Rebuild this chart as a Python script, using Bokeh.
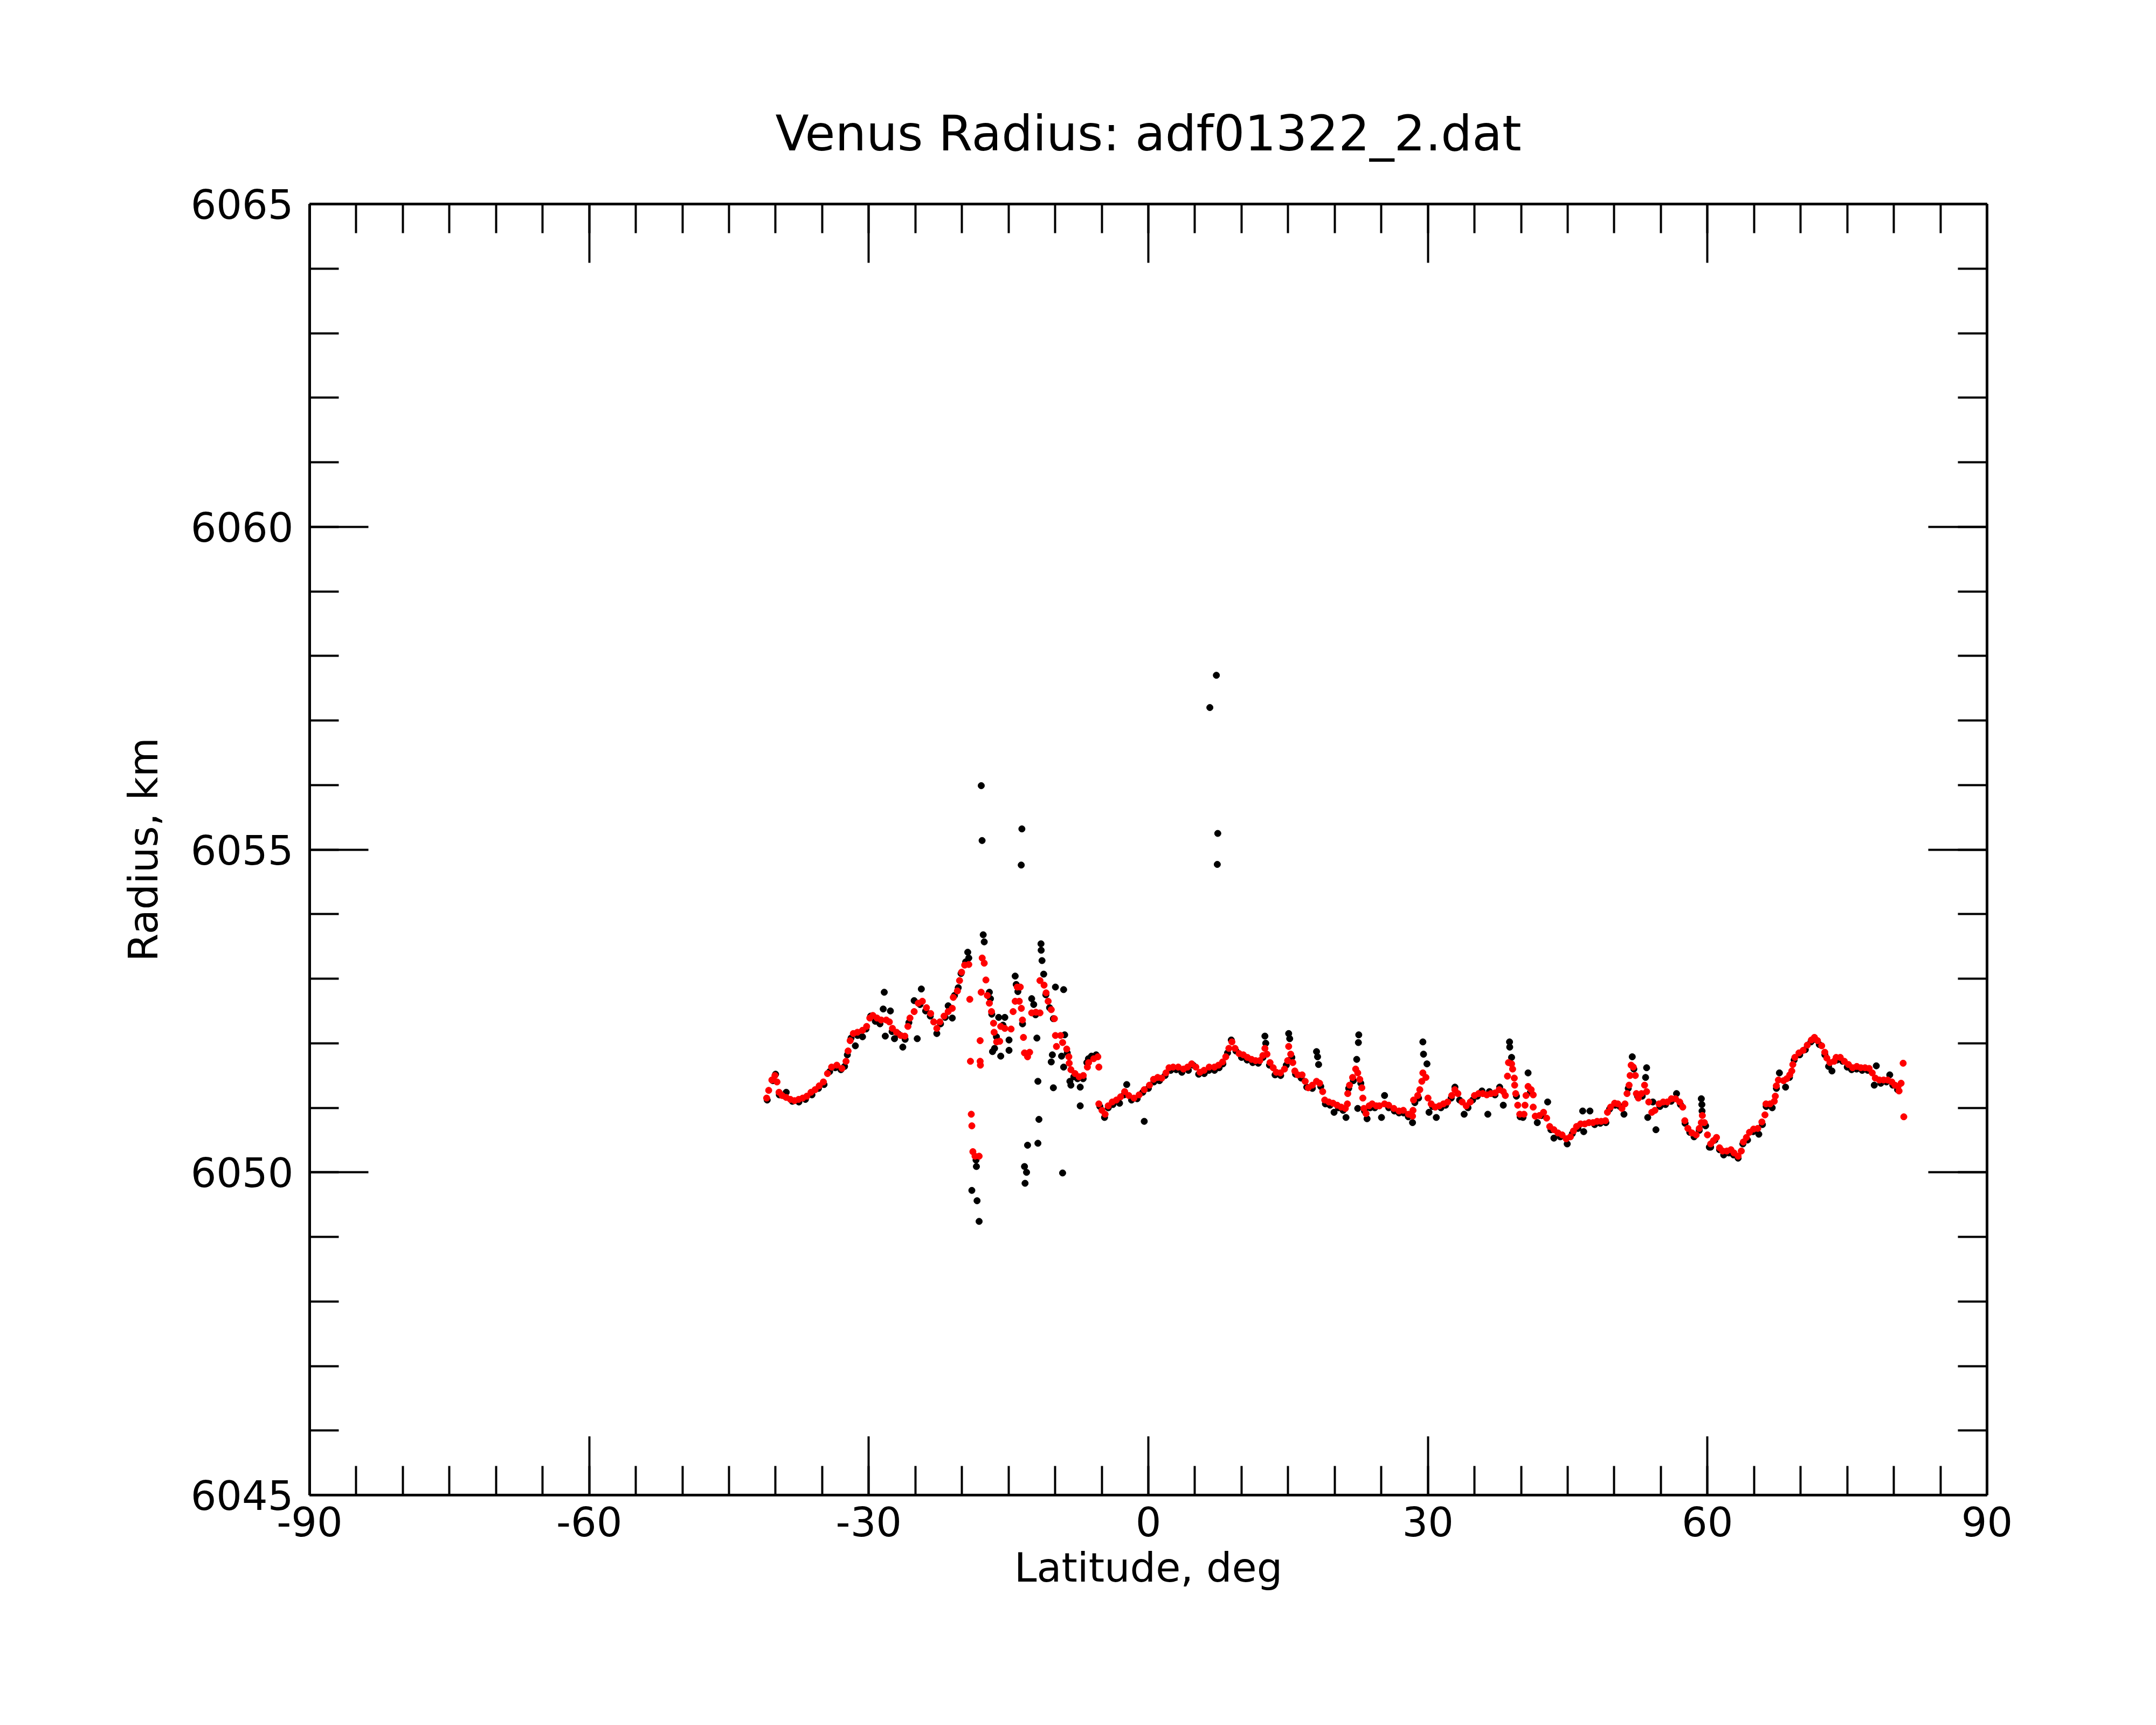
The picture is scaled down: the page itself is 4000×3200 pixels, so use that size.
from bokeh.plotting import figure
from bokeh.models import Range1d, FixedTicker, LinearAxis
from bokeh.embed import file_html
from bokeh.resources import INLINE

title_text = "Venus Radius: adf01322_2.dat"
x_title = "Latitude, deg"
y_title = "Radius, km"

x_major = [-90, -60, -30, 0, 30, 60, 90]
x_minor = list(range(-90, 91, 5))
y_major = [6045, 6050, 6055, 6060, 6065]
y_minor = list(range(6045, 6066))

# smoothed (red) profile
fit_lat = [
    -40.96, -40.74, -40.40, -40.07, -39.85, -39.63, -39.30, -38.86, -38.41, -37.97,
    -37.53, -37.09, -36.64, -36.20, -35.76, -35.32, -34.87, -34.43, -33.99, -33.43,
    -32.88, -32.44, -32.22, -32.00, -31.66, -31.22, -30.67, -30.23, -29.89, -29.56,
    -29.12, -28.67, -28.12, -27.79, -27.46, -27.02, -26.57, -26.13, -25.80, -25.58,
    -25.13, -24.69, -24.25, -23.81, -23.36, -23.03, -22.70, -22.37, -21.92, -21.48,
    -21.04, -20.93, -20.49, -20.26, -20.04, -19.71, -19.27, -19.16, -19.09, -19.00,
    -18.94, -18.83, -18.60, -18.16, -18.05, -18.05, -18.02, -17.94, -17.83, -17.61,
    -17.43, -17.28, -17.06, -16.83, -16.61, -16.55, -16.28, -15.95, -15.84, -15.40,
    -14.73, -14.51, -14.29, -14.07, -13.85, -13.74, -13.63, -13.51, -13.40, -13.29,
    -12.96, -12.74, -12.52, -12.07, -11.63, -11.63, -11.19, -10.97, -10.75, -10.42,
    -10.08, -9.97, -9.86, -9.42, -9.20, -8.76, -8.53, -8.49, -8.31, -7.87,
    -7.43, -6.98, -6.54, -6.41, -5.86, -5.42, -5.31, -5.31, -4.97, -4.64,
    -4.31, -3.87, -3.43, -2.98, -2.54, -2.10, -1.54, -0.99, -0.44, 0.12,
    0.56, 1.00, 1.44, 1.89, 2.22, 2.66, 3.21, 3.77, 4.21, 4.65,
    5.10, 5.54, 5.98, 6.53, 7.09, 7.53, 7.97, 8.31, 8.64, 8.97,
    9.30, 9.74, 10.19, 10.63, 11.07, 11.51, 11.96, 12.29, 12.51, 12.73,
    13.06, 13.40, 13.73, 14.17, 14.61, 14.95, 15.06, 15.28, 15.50, 15.72,
    16.05, 16.50, 16.83, 17.16, 17.60, 18.05, 18.38, 18.71, 18.93, 19.37,
    19.82, 20.26, 20.70, 21.14, 21.36, 21.40, 21.59, 21.92, 22.25, 22.47,
    22.69, 22.91, 23.02, 23.13, 23.36, 23.69, 24.02, 24.46, 24.79, 25.35,
    25.79, 26.34, 26.90, 27.36, 27.91, 28.35, 28.40, 28.46, 28.91, 29.13,
    29.35, 29.46, 29.79, 30.01, 30.35, 30.79, 31.23, 31.67, 32.12, 32.56,
    32.89, 33.22, 33.67, 34.11, 34.55, 35.00, 35.44, 35.88, 36.32, 36.76,
    37.21, 37.65, 38.09, 38.31, 38.54, 38.65, 38.98, 39.09, 39.27, 39.31,
    39.42, 39.64, 39.86, 40.31, 40.42, 40.53, 40.75, 41.08, 41.30, 41.30,
    41.52, 41.97, 42.41, 42.74, 43.07, 43.52, 43.96, 44.40, 44.84, 45.29,
    45.62, 45.95, 46.39, 46.84, 47.28, 47.72, 48.16, 48.60, 49.05, 49.27,
    49.60, 50.04, 50.38, 50.82, 51.15, 51.37, 51.59, 51.70, 51.81, 52.04,
    52.26, 52.37, 52.59, 52.92, 53.25, 53.47, 53.70, 54.03, 54.36, 54.80,
    55.25, 55.69, 56.13, 56.57, 57.02, 57.35, 57.57, 57.90, 58.34, 58.79,
    59.12, 59.34, 59.45, 59.67, 60.00, 60.34, 60.64, 60.97, 61.30, 61.63,
    62.08, 62.52, 62.85, 63.29, 63.63, 63.85, 64.18, 64.51, 64.95, 65.40,
    65.84, 66.17, 66.28, 66.72, 67.17, 67.28, 67.39, 67.61, 68.16, 68.50,
    68.83, 69.05, 69.16, 69.38, 69.82, 70.27, 70.71, 71.15, 71.48, 71.81,
    72.26, 72.59, 72.81, 73.14, 73.59, 73.81, 74.25, 74.69, 75.13, 75.58,
    76.02, 76.46, 76.91, 77.35, 77.68, 78.01, 78.45, 78.90, 79.34, 79.78,
    80.12, 80.45, 80.56, 80.78, 81.00, 81.07,
]
fit_radius = [
    6051.15, 6051.27, 6051.43, 6051.50, 6051.40, 6051.24, 6051.19, 6051.16, 6051.13, 6051.11,
    6051.13, 6051.15, 6051.18, 6051.24, 6051.28, 6051.34, 6051.40, 6051.53, 6051.63, 6051.66,
    6051.61, 6051.72, 6051.88, 6052.04, 6052.15, 6052.17, 6052.20, 6052.26, 6052.39, 6052.43,
    6052.39, 6052.36, 6052.36, 6052.33, 6052.23, 6052.17, 6052.12, 6052.11, 6052.26, 6052.39,
    6052.49, 6052.62, 6052.65, 6052.55, 6052.46, 6052.33, 6052.23, 6052.33, 6052.42, 6052.49,
    6052.54, 6052.71, 6052.81, 6052.97, 6053.10, 6053.21, 6053.22, 6052.68, 6051.72, 6050.90,
    6050.72, 6050.32, 6050.25, 6050.25, 6052.04, 6051.72, 6051.66, 6052.79, 6053.32, 6053.24,
    6052.98, 6052.74, 6052.62, 6052.49, 6052.31, 6052.17, 6052.02, 6052.03, 6052.26, 6052.23,
    6052.22, 6052.49, 6052.65, 6052.87, 6052.65, 6052.87, 6052.54, 6052.36, 6052.09, 6051.85,
    6051.79, 6051.86, 6052.47, 6052.48, 6052.47, 6052.97, 6052.90, 6052.78, 6052.65, 6052.52,
    6052.38, 6052.12, 6051.95, 6052.12, 6052.01, 6051.91, 6051.79, 6051.69, 6051.59, 6051.53,
    6051.48, 6051.50, 6051.63, 6051.70, 6051.76, 6051.79, 6051.63, 6051.06, 6050.96, 6050.90,
    6051.03, 6051.09, 6051.12, 6051.17, 6051.25, 6051.19, 6051.15, 6051.20, 6051.28, 6051.35,
    6051.44, 6051.47, 6051.46, 6051.54, 6051.62, 6051.63, 6051.63, 6051.60, 6051.63, 6051.68,
    6051.63, 6051.55, 6051.58, 6051.63, 6051.63, 6051.66, 6051.71, 6051.79, 6051.92, 6052.02,
    6051.92, 6051.84, 6051.82, 6051.78, 6051.75, 6051.73, 6051.73, 6051.81, 6051.92, 6051.83,
    6051.70, 6051.62, 6051.55, 6051.54, 6051.60, 6051.73, 6051.95, 6051.83, 6051.70, 6051.57,
    6051.51, 6051.51, 6051.41, 6051.31, 6051.35, 6051.41, 6051.38, 6051.25, 6051.12, 6051.09,
    6051.07, 6051.04, 6051.01, 6050.99, 6051.06, 6051.22, 6051.35, 6051.47, 6051.60, 6051.54,
    6051.44, 6051.31, 6051.15, 6050.99, 6050.91, 6051.03, 6051.06, 6051.03, 6051.03, 6051.06,
    6051.04, 6050.99, 6050.95, 6050.96, 6050.90, 6050.87, 6050.96, 6051.12, 6051.19, 6051.28,
    6051.41, 6051.54, 6051.47, 6051.15, 6051.06, 6051.01, 6051.03, 6051.06, 6051.09, 6051.19,
    6051.28, 6051.22, 6051.09, 6051.03, 6051.09, 6051.19, 6051.22, 6051.22, 6051.20, 6051.22,
    6051.23, 6051.28, 6051.25, 6051.19, 6051.49, 6051.70, 6051.68, 6051.60, 6051.46, 6051.35,
    6051.22, 6051.04, 6050.90, 6050.90, 6051.04, 6051.19, 6051.33, 6051.28, 6051.20, 6051.01,
    6050.87, 6050.88, 6050.93, 6050.84, 6050.71, 6050.66, 6050.61, 6050.58, 6050.52, 6050.55,
    6050.64, 6050.71, 6050.75, 6050.75, 6050.77, 6050.77, 6050.79, 6050.79, 6050.80, 6050.93,
    6051.01, 6051.07, 6051.06, 6050.99, 6051.06, 6051.22, 6051.35, 6051.50, 6051.66, 6051.63,
    6051.50, 6051.22, 6051.15, 6051.22, 6051.35, 6051.25, 6051.09, 6050.93, 6050.96, 6051.06,
    6051.09, 6051.09, 6051.14, 6051.14, 6051.09, 6051.01, 6050.80, 6050.68, 6050.61, 6050.58,
    6050.68, 6050.77, 6050.88, 6050.77, 6050.58, 6050.44, 6050.49, 6050.54, 6050.38, 6050.33,
    6050.33, 6050.35, 6050.30, 6050.25, 6050.33, 6050.47, 6050.54, 6050.62, 6050.67, 6050.68,
    6050.78, 6050.89, 6051.06, 6051.06, 6051.10, 6051.18, 6051.34, 6051.43, 6051.42, 6051.45,
    6051.51, 6051.57, 6051.67, 6051.78, 6051.85, 6051.89, 6051.97, 6052.05, 6052.09, 6052.04,
    6051.96, 6051.86, 6051.77, 6051.70, 6051.72, 6051.78, 6051.78, 6051.72, 6051.67, 6051.62,
    6051.64, 6051.62, 6051.62, 6051.61, 6051.54, 6051.46, 6051.43, 6051.43, 6051.43, 6051.40,
    6051.35, 6051.33, 6051.26, 6051.38, 6051.69, 6050.86,
]

# raw (black) measurements
raw_lat = [
    -40.90, -40.30, -40.00, -39.60, -39.00, -38.86, -38.20, -37.50, -36.80, -36.10,
    -35.40, -34.80, -34.20, -33.60, -32.99, -32.60, -32.30, -31.90, -31.44, -31.20,
    -30.67, -30.30, -29.80, -29.30, -28.80, -28.45, -28.34, -28.23, -27.68, -27.50,
    -27.24, -26.80, -26.35, -26.10, -25.70, -25.13, -24.80, -24.50, -24.36, -23.90,
    -23.40, -22.70, -22.30, -21.80, -21.48, -21.04, -20.80, -20.40, -20.10, -19.60,
    -19.38, -19.27, -18.94, -18.49, -18.45, -18.38, -18.16, -17.93, -17.84, -17.72,
    -17.61, -17.06, -16.94, -16.80, -16.72, -16.50, -16.30, -16.06, -15.84, -15.60,
    -15.40, -14.95, -14.95, -14.29, -14.18, -14.00, -13.64, -13.57, -13.50, -13.29,
    -13.23, -13.07, -12.96, -12.52, -12.30, -12.10, -11.96, -11.85, -11.85, -11.74,
    -11.52, -11.50, -11.41, -11.23, -11.00, -10.60, -10.42, -10.30, -10.19, -10.19,
    -9.97, -9.31, -9.20, -9.09, -9.09, -8.98, -8.70, -8.42, -8.31, -8.00,
    -7.60, -7.31, -7.31, -7.00, -6.60, -6.43, -6.10, -5.60, -5.20, -4.70,
    -4.30, -3.80, -3.09, -2.60, -2.32, -1.80, -1.20, -0.60, -0.44, 0.00,
    0.60, 1.20, 1.80, 2.40, 3.00, 3.60, 4.30, 4.80, 5.40, 6.00,
    6.50, 6.60, 7.10, 7.30, 7.40, 7.45, 7.60, 8.00, 8.50, 8.90,
    9.40, 10.00, 10.60, 11.20, 11.80, 12.30, 12.51, 12.60, 13.00, 13.60,
    14.20, 14.80, 15.06, 15.17, 15.40, 15.80, 16.40, 17.00, 17.60, 18.05,
    18.16, 18.27, 18.50, 19.00, 19.50, 19.93, 20.40, 20.90, 21.21, 21.50,
    22.00, 22.36, 22.47, 22.54, 22.58, 22.80, 23.20, 23.47, 23.80, 24.30,
    25.02, 25.35, 25.80, 26.40, 26.90, 27.40, 27.90, 28.35, 28.60, 29.00,
    29.46, 29.53, 29.90, 30.12, 30.50, 30.90, 31.40, 31.90, 32.50, 32.90,
    33.40, 33.89, 34.30, 34.80, 35.30, 35.80, 36.43, 36.60, 37.20, 37.70,
    38.09, 38.76, 38.78, 38.98, 39.50, 39.90, 40.20, 40.75, 41.00, 41.74,
    42.20, 42.85, 43.20, 43.52, 44.20, 44.95, 45.50, 46.10, 46.61, 46.72,
    47.39, 47.90, 48.50, 49.10, 49.50, 50.10, 50.60, 51.04, 51.50, 51.93,
    52.10, 52.50, 53.00, 53.36, 53.47, 53.59, 54.14, 54.47, 54.90, 55.50,
    56.10, 56.68, 57.10, 57.60, 58.10, 58.56, 59.12, 59.34, 59.40, 59.42,
    59.80, 60.20, 60.34, 60.80, 61.30, 61.74, 62.30, 62.80, 63.29, 63.80,
    64.30, 64.90, 65.51, 65.90, 66.30, 66.95, 67.40, 67.72, 68.38, 68.80,
    69.30, 69.90, 70.50, 71.10, 71.50, 72.00, 72.60, 73.00, 73.36, 73.90,
    74.50, 75.00, 75.47, 76.00, 76.60, 77.20, 77.90, 78.12, 78.60, 79.20,
    79.56, 79.89, 80.40,
]
raw_radius = [
    6051.12, 6051.42, 6051.52, 6051.20, 6051.18, 6051.24, 6051.10, 6051.09, 6051.13, 6051.20,
    6051.30, 6051.36, 6051.56, 6051.62, 6051.59, 6051.64, 6051.82, 6052.08, 6051.96, 6052.12,
    6052.10, 6052.22, 6052.42, 6052.34, 6052.30, 6052.53, 6052.79, 6052.11, 6052.50, 6052.18,
    6052.07, 6052.14, 6051.94, 6052.06, 6052.32, 6052.66, 6052.07, 6052.60, 6052.84, 6052.50,
    6052.42, 6052.15, 6052.30, 6052.40, 6052.58, 6052.39, 6052.74, 6052.86, 6053.08, 6053.26,
    6053.41, 6053.32, 6049.72, 6050.19, 6050.09, 6049.56, 6049.24, 6055.99, 6055.14, 6053.68,
    6053.57, 6052.79, 6052.69, 6052.45, 6051.87, 6051.92, 6052.10, 6052.40, 6051.80, 6052.28,
    6052.40, 6051.89, 6052.05, 6053.04, 6052.91, 6052.80, 6054.76, 6055.32, 6052.30, 6050.09,
    6049.83, 6050.00, 6050.42, 6052.69, 6052.60, 6052.44, 6052.08, 6051.41, 6050.45, 6050.82,
    6053.54, 6053.44, 6053.28, 6053.07, 6052.75, 6052.55, 6051.71, 6051.82, 6052.38, 6051.31,
    6052.87, 6051.80, 6049.99, 6052.83, 6051.63, 6052.13, 6051.85, 6051.41, 6051.35, 6051.48,
    6051.45, 6051.32, 6051.03, 6051.45, 6051.70, 6051.76, 6051.80, 6051.82, 6051.02, 6050.85,
    6051.00, 6051.05, 6051.07, 6051.20, 6051.36, 6051.12, 6051.14, 6051.24, 6050.79, 6051.30,
    6051.40, 6051.42, 6051.50, 6051.58, 6051.59, 6051.55, 6051.58, 6051.66, 6051.52, 6051.53,
    6051.58, 6057.20, 6051.58, 6057.70, 6054.77, 6055.25, 6051.62, 6051.68, 6051.85, 6052.05,
    6051.88, 6051.78, 6051.74, 6051.70, 6051.69, 6051.78, 6052.11, 6052.00, 6051.66, 6051.51,
    6051.50, 6051.66, 6052.15, 6052.07, 6051.78, 6051.52, 6051.46, 6051.32, 6051.30, 6051.87,
    6051.79, 6051.67, 6051.33, 6051.06, 6051.04, 6050.93, 6051.00, 6050.96, 6050.85, 6051.30,
    6051.42, 6051.75, 6050.99, 6052.01, 6052.13, 6051.38, 6050.95, 6050.83, 6051.00, 6051.00,
    6050.85, 6051.19, 6051.00, 6050.95, 6050.92, 6050.92, 6050.86, 6050.77, 6051.08, 6051.15,
    6052.02, 6051.83, 6051.68, 6050.93, 6051.02, 6050.85, 6051.00, 6051.04, 6051.15, 6051.32,
    6051.12, 6050.90, 6051.00, 6051.12, 6051.18, 6051.26, 6050.90, 6051.25, 6051.20, 6051.32,
    6051.04, 6052.02, 6051.94, 6051.78, 6051.18, 6050.86, 6050.85, 6051.54, 6051.24, 6050.77,
    6050.88, 6051.09, 6050.66, 6050.53, 6050.55, 6050.44, 6050.60, 6050.68, 6050.95, 6050.63,
    6050.95, 6050.74, 6050.76, 6050.77, 6050.98, 6051.04, 6051.02, 6050.90, 6051.30, 6051.79,
    6051.60, 6051.18, 6051.18, 6051.47, 6051.62, 6050.85, 6051.09, 6050.66, 6051.02, 6051.05,
    6051.10, 6051.22, 6051.05, 6050.76, 6050.62, 6050.55, 6050.65, 6051.14, 6051.05, 6050.95,
    6050.72, 6050.39, 6050.39, 6050.50, 6050.35, 6050.27, 6050.30, 6050.27, 6050.22, 6050.44,
    6050.50, 6050.63, 6050.59, 6050.74, 6051.02, 6051.00, 6051.30, 6051.54, 6051.32, 6051.47,
    6051.74, 6051.82, 6051.90, 6052.02, 6052.06, 6051.98, 6051.82, 6051.64, 6051.57, 6051.74,
    6051.72, 6051.63, 6051.59, 6051.60, 6051.58, 6051.58, 6051.35, 6051.65, 6051.38, 6051.40,
    6051.51, 6051.35, 6051.28,
]

assert len(fit_lat) == len(fit_radius)
assert len(raw_lat) == len(raw_radius)

FONT = "DejaVu Sans"

p = figure(
    width=3984, height=3184,
    output_backend="svg", toolbar_location=None,
    x_range=Range1d(-90, 90), y_range=Range1d(6045, 6065),
    min_border_left=574, min_border_right=298,
    min_border_top=378, min_border_bottom=411,
    background_fill_color="white", border_fill_color="white",
)
p.xgrid.visible = False
p.ygrid.visible = False
p.outline_line_color = None

ax_bottom = p.below[0]
ax_left = p.left[0]
ax_top = LinearAxis()
ax_right = LinearAxis()
p.add_layout(ax_top, "above")
p.add_layout(ax_right, "right")

for ax in (ax_bottom, ax_top):
    ax.ticker = FixedTicker(ticks=x_major, minor_ticks=x_minor)
    ax.major_label_overrides = {t: str(t) for t in x_major}
for ax in (ax_left, ax_right):
    ax.ticker = FixedTicker(ticks=y_major, minor_ticks=y_minor)
    ax.major_label_overrides = {t: str(t) for t in y_major}

for ax in (ax_bottom, ax_left, ax_top, ax_right):
    ax.axis_line_color = "black"
    ax.axis_line_width = 5
    ax.major_tick_in = 109
    ax.major_tick_out = 0
    ax.minor_tick_in = 54
    ax.minor_tick_out = 0
    ax.major_tick_line_color = "black"
    ax.minor_tick_line_color = "black"
    ax.major_tick_line_width = 4
    ax.minor_tick_line_width = 4
    ax.major_label_text_font = FONT
    ax.major_label_text_font_size = "75px"
    ax.major_label_text_color = "black"
    ax.axis_label_text_font = FONT
    ax.axis_label_text_font_style = "normal"
    ax.axis_label_text_color = "black"

# hidden tick labels on top / right
for ax in (ax_top, ax_right):
    ax.major_label_text_color = None
    ax.major_label_text_font_size = "0px"
    ax.major_label_standoff = 0

ax_left.major_label_standoff = 30
ax_bottom.major_label_standoff = 21

ax_bottom.axis_label = x_title
ax_bottom.axis_label_text_font_size = "75px"
ax_bottom.axis_label_standoff = 11

ax_left.axis_label = y_title
ax_left.axis_label_text_font_size = "75px"
ax_left.axis_label_standoff = 41

ax_top.axis_label = title_text
ax_top.axis_label_text_font_size = "91px"
ax_top.axis_label_standoff = 79

p.scatter(raw_lat, raw_radius, size=12, color="black", marker="circle")
p.scatter(fit_lat, fit_radius, size=12, color="red", marker="circle")

open("out.html", "w").write(file_html(p, INLINE))
